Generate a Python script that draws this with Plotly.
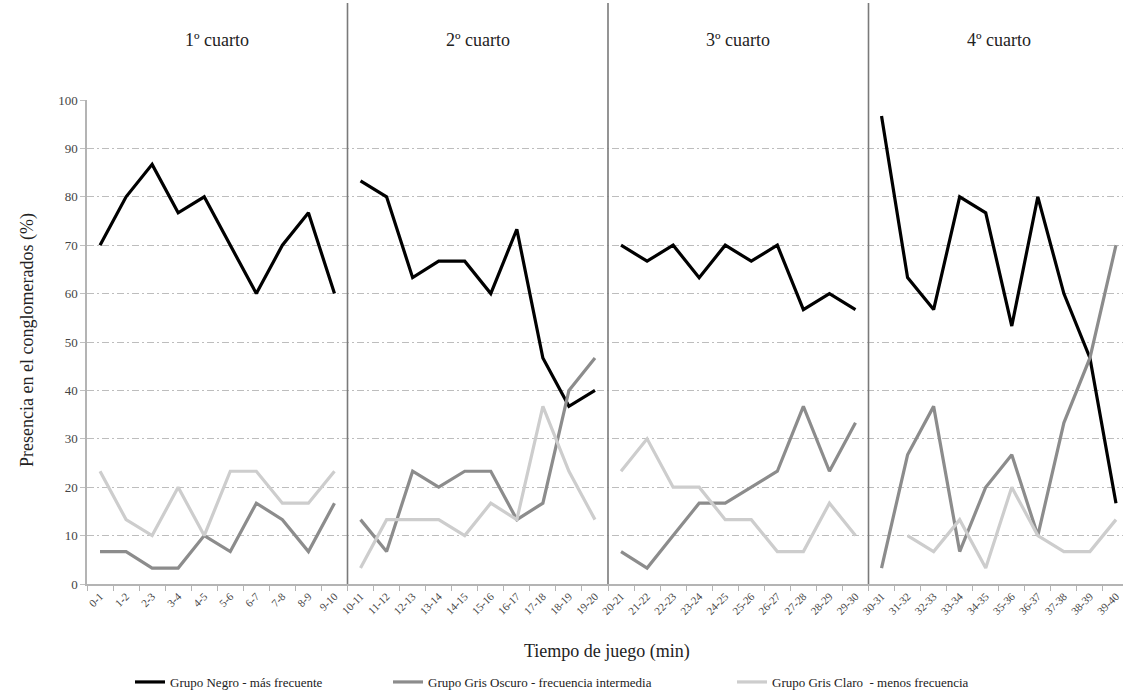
import plotly.graph_objects as go

periods = ["0-1", "1-2", "2-3", "3-4", "4-5", "5-6", "6-7", "7-8", "8-9", "9-10",
           "10-11", "11-12", "12-13", "13-14", "14-15", "15-16", "16-17", "17-18", "18-19", "19-20",
           "20-21", "21-22", "22-23", "23-24", "24-25", "25-26", "26-27", "27-28", "28-29", "29-30",
           "30-31", "31-32", "32-33", "33-34", "34-35", "35-36", "36-37", "37-38", "38-39", "39-40"]
quarters = ["1º cuarto", "2º cuarto", "3º cuarto", "4º cuarto"]

negro = [70, 80, 86.7, 76.7, 80, 70, 60, 70, 76.7, 60,
         83.3, 80, 63.3, 66.7, 66.7, 60, 73.3, 46.7, 36.7, 40,
         70, 66.7, 70, 63.3, 70, 66.7, 70, 56.7, 60, 56.7,
         96.7, 63.3, 56.7, 80, 76.7, 53.3, 80, 60, 46.7, 16.7]
gris_oscuro = [6.7, 6.7, 3.3, 3.3, 10, 6.7, 16.7, 13.3, 6.7, 16.7,
               13.3, 6.7, 23.3, 20, 23.3, 23.3, 13.3, 16.7, 40, 46.7,
               6.7, 3.3, 10, 16.7, 16.7, 20, 23.3, 36.7, 23.3, 33.3,
               3.3, 26.7, 36.7, 6.7, 20, 26.7, 10, 33.3, 46.7, 70]
gris_claro = [23.3, 13.3, 10, 20, 10, 23.3, 23.3, 16.7, 16.7, 23.3,
              3.3, 13.3, 13.3, 13.3, 10, 16.7, 13.3, 36.7, 23.3, 13.3,
              23.3, 30, 20, 20, 13.3, 13.3, 6.7, 6.7, 16.7, 10,
              None, 10, 6.7, 13.3, 3.3, 20, 10, 6.7, 6.7, 13.3]

series_names = ["Grupo Negro - más frecuente",
                "Grupo Gris Oscuro - frecuencia intermedia",
                "Grupo Gris Claro  - menos frecuencia"]
series_colors = ["#000000", "#8c8c8c", "#cdcdcd"]

W, H = 1123, 697
ML, MR, MT, MB = 87, 0, 100, 113
plot_w = W - ML - MR
plot_h = H - MT - MB
cat_px = 26.05
x_end = -0.5 + plot_w / cat_px

FONT = "Liberation Serif, Times New Roman, serif"


def segmented(values):
    xs, ys = [], []
    for q in range(4):
        for i in range(q * 10, q * 10 + 10):
            xs.append(i)
            ys.append(values[i])
        xs.append(None)
        ys.append(None)
    return xs, ys


fig = go.Figure()
legend_px = [136, 394, 738]
for k, (vals, name, col) in enumerate(zip([negro, gris_oscuro, gris_claro], series_names, series_colors)):
    xs, ys = segmented(vals)
    lg = "legend" if k == 0 else f"legend{k + 1}"
    fig.add_trace(go.Scatter(x=xs, y=ys, mode="lines", name=name,
                             line=dict(color=col, width=3.2),
                             connectgaps=False, legend=lg, showlegend=True))

legend_common = dict(orientation="h", yanchor="middle", xanchor="left",
                     font=dict(family=FONT, size=13, color="#222222"),
                     bgcolor="rgba(0,0,0,0)", itemwidth=30, tracegroupgap=0)
ly = -(682 - (H - MB)) / plot_h
layout_legends = {}
for k, px in enumerate(legend_px):
    key = "legend" if k == 0 else f"legend{k + 1}"
    layout_legends[key] = dict(legend_common, x=(px - 6 - ML) / plot_w, y=ly)

grid_dash = "7px,3px,2px,3px"

fig.update_layout(
    width=W, height=H,
    margin=dict(l=ML, r=MR, t=MT, b=MB, autoexpand=False),
    paper_bgcolor="white", plot_bgcolor="white",
    font=dict(family=FONT, color="#333333"),
    **layout_legends,
    xaxis=dict(
        range=[-0.5, x_end],
        tickmode="array", tickvals=list(range(len(periods))), ticktext=periods,
        tickangle=-45, tickfont=dict(family=FONT, size=11, color="#444444"),
        ticklabeloverflow="allow",
        ticks="", showgrid=False, zeroline=False,
        showline=True, linecolor="#b4b4b4", linewidth=1.5,
        minor=dict(tickmode="array", tickvals=[i - 0.5 for i in range(len(periods) + 1)],
                   ticks="outside", ticklen=5, tickcolor="#b4b4b4", tickwidth=1, showgrid=False),
        fixedrange=True,
    ),
    yaxis=dict(
        range=[0, 100], tickmode="array", tickvals=list(range(0, 101, 10)),
        tickfont=dict(family=FONT, size=13, color="#444444"),
        ticks="outside", ticklen=5, tickcolor="#c0c0c0",
        showgrid=True, gridcolor="#bdbdbd", gridwidth=1, griddash=grid_dash,
        zeroline=False, showline=True, linecolor="#b4b4b4", linewidth=1.5,
        fixedrange=True,
    ),
)

# quarter separators
for b in [9.5, 19.5, 29.5]:
    fig.add_shape(type="line", xref="x", yref="paper", x0=b, x1=b, y0=0,
                  y1=(H - MB - 3) / plot_h, line=dict(color="#7a7a7a", width=1.6), layer="above")

# quarter titles
for q, t in enumerate(quarters):
    fig.add_annotation(text=t, xref="x", yref="paper", x=q * 10 + 4.5,
                       y=(H - MB - 40) / plot_h, showarrow=False,
                       font=dict(family=FONT, size=18, color="#222222"),
                       xanchor="center", yanchor="middle")

# axis titles
fig.add_annotation(text="Presencia en el conglomerados (%)", xref="paper", yref="paper",
                   x=(27 - ML) / plot_w, y=(H - MB - 340) / plot_h, textangle=-90, showarrow=False,
                   font=dict(family=FONT, size=18, color="#222222"),
                   xanchor="center", yanchor="middle")
fig.add_annotation(text="Tiempo de juego (min)", xref="paper", yref="paper",
                   x=(607 - ML) / plot_w, y=-(651 - (H - MB)) / plot_h, showarrow=False,
                   font=dict(family=FONT, size=18, color="#222222"),
                   xanchor="center", yanchor="middle")

fig.write_html("out.html", config={"displayModeBar": False},
               post_script="document.body.style.margin='0';document.body.style.overflow='hidden';")
